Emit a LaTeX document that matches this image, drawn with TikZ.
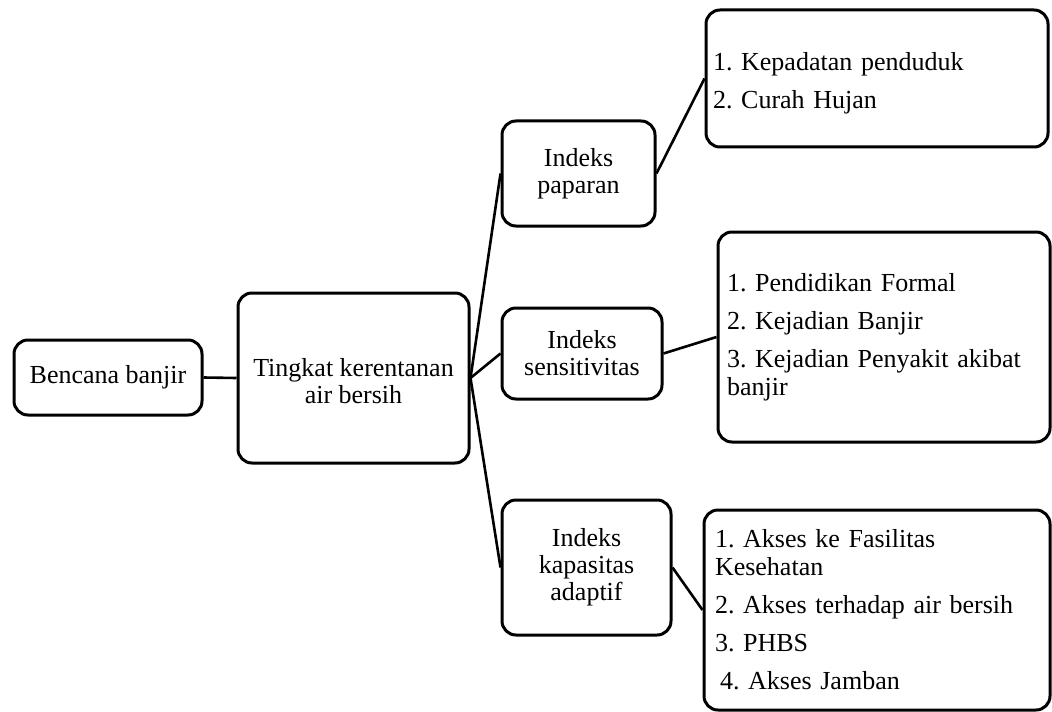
\documentclass[tikz,border=0pt]{standalone}
\usepackage{fontspec}
\setmainfont{Liberation Serif}
\frenchspacing
\begin{document}
\begin{tikzpicture}[x=0.5pt,y=-0.5pt]
\tikzset{
  box/.style={draw, line width=1.5pt, rounded corners=7pt, align=center, inner sep=0pt,
    font=\fontsize{13}{13.5}\selectfont},
  listbox/.style={box, align=left, font=\fontsize{13}{14}\selectfont},
  link/.style={line width=1.3pt},
}
\useasboundingbox (0,0) rectangle (1052,711);

\node[box, minimum width=94pt, minimum height=37.5pt] (bencana) at (108,377.5) {Bencana banjir};
\node[box, minimum width=115.5pt, minimum height=85pt] (tingkat) at (353.5,378) {\rule{0pt}{12pt}Tingkat kerentanan\\air bersih};

\node[box, minimum width=76.5pt, minimum height=52.5pt] (paparan) at (578.5,173.5) {Indeks\\paparan};
\node[box, minimum width=80pt, minimum height=45.5pt] (sens) at (582,353.5) {Indeks\\sensitivitas};
\node[box, minimum width=84.5pt, minimum height=67.5pt] (kap) at (586.5,567.5) {Indeks\\kapasitas\\adaptif};

\node[listbox, minimum width=171pt, minimum height=68.5pt, inner xsep=3.5pt, text width=164pt] (l1) at (877,78.5)
  {\rule{0pt}{14pt}1. Kepadatan penduduk\\[5pt]2. Curah Hujan};
\node[listbox, minimum width=166pt, minimum height=105pt, inner xsep=4.5pt, text width=157pt] (l2) at (884,337)
  {1. Pendidikan Formal\\[5pt]2. Kejadian Banjir\\[5pt]3. Kejadian Penyakit akibat\\banjir};
\node[listbox, minimum width=173pt, minimum height=100pt, inner xsep=5.5pt, text width=162pt] (l3) at (877,610)
  {1. Akses ke Fasilitas\\Kesehatan\\[5pt]2. Akses terhadap air bersih\\[5pt]3. PHBS\\[5pt]\hspace{2.5pt}4. Akses Jamban};

\draw[link] (bencana.east) -- (tingkat.west);
\draw[link] (tingkat.east) -- (paparan.west);
\draw[link] (tingkat.east) -- (sens.west);
\draw[link] (tingkat.east) -- (kap.west);
\draw[link] (paparan.east) -- (l1.west);
\draw[link] (sens.east) -- (l2.west);
\draw[link] (kap.east) -- (l3.west);
\end{tikzpicture}
\end{document}
